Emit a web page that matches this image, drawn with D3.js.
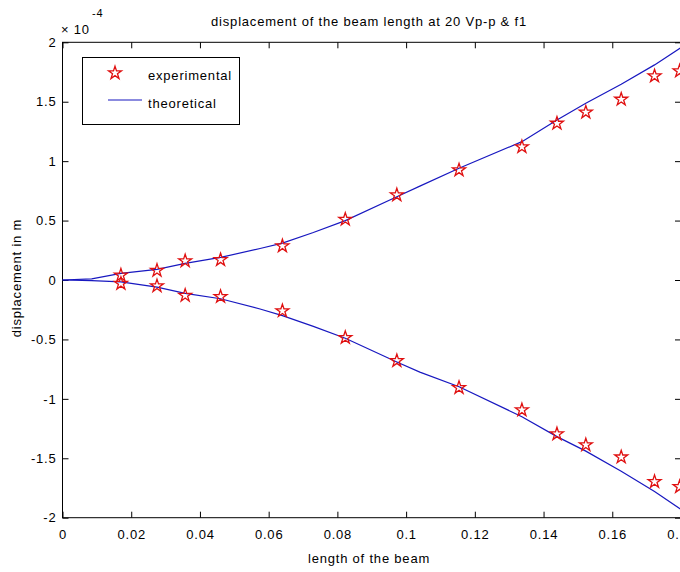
<!DOCTYPE html>
<html>
<head>
<meta charset="utf-8">
<script src="https://cdn.jsdelivr.net/npm/d3@7"></script>
<style>
  body { margin: 0; background: #fff; }
  svg text { font-family: "Liberation Sans", Arial, Helvetica, sans-serif; fill: #000; letter-spacing: 0.8px; }
</style>
</head>
<body>
<script>
// values, displacement in units of 1e-4 m
const expX = [0.017, 0.0275, 0.0357, 0.046, 0.064, 0.0823, 0.0973, 0.1154, 0.1337, 0.1439, 0.1523, 0.1626, 0.1723, 0.1796];
const expUpper = [0.04, 0.08, 0.16, 0.17, 0.286, 0.51, 0.715, 0.925, 1.12, 1.318, 1.411, 1.52, 1.716, 1.758];
const expLower = [-0.03, -0.05, -0.13, -0.14, -0.26, -0.485, -0.68, -0.906, -1.094, -1.296, -1.388, -1.49, -1.697, -1.74];

const theoX = [0, 0.0085, 0.017, 0.0275, 0.0357, 0.046, 0.0575, 0.064, 0.073, 0.0823, 0.0973, 0.104, 0.1154, 0.1337, 0.1439, 0.1523, 0.1626, 0.1723, 0.18];
const theoUpper = [0, 0.01, 0.055, 0.09, 0.14, 0.19, 0.265, 0.31, 0.40, 0.50, 0.70, 0.79, 0.94, 1.164, 1.346, 1.487, 1.647, 1.81, 1.955];
const theoLower = [0, -0.005, -0.015, -0.06, -0.112, -0.158, -0.244, -0.30, -0.39, -0.49, -0.69, -0.775, -0.898, -1.15, -1.318, -1.44, -1.61, -1.78, -1.93];

const xTicks = [0, 0.02, 0.04, 0.06, 0.08, 0.1, 0.12, 0.14, 0.16, 0.18];
const yTicks = [-2, -1.5, -1, -0.5, 0, 0.5, 1, 1.5, 2];

const width = 680, height = 572;
const mLeft = 62.5, mRight = 681, mTop = 42.3, mBottom = 517.7;

const svg = d3.select("body").append("svg")
    .attr("width", width)
    .attr("height", height);

const x = d3.scaleLinear().domain([0, 0.18]).range([mLeft, mRight]);
const y = d3.scaleLinear().domain([-2, 2]).range([mBottom, mTop]);

const tickLen = 6;
const fmt = d => String(d);   // matlab style, plain hyphen

// axes: bottom + left with labels, top + right ticks only
svg.append("g")
    .attr("transform", `translate(0,${mBottom})`)
    .call(d3.axisBottom(x).tickValues(xTicks).tickSizeInner(-tickLen).tickSizeOuter(0).tickPadding(12).tickFormat(fmt))
    .call(g => g.select(".domain").remove())
    .call(g => g.selectAll("text").attr("font-size", 13));

svg.append("g")
    .attr("transform", `translate(${mLeft},0)`)
    .call(d3.axisLeft(y).tickValues(yTicks).tickSizeInner(-tickLen).tickSizeOuter(0).tickPadding(6).tickFormat(fmt))
    .call(g => g.select(".domain").remove())
    .call(g => g.selectAll("text").attr("font-size", 13));

svg.append("g")
    .attr("transform", `translate(0,${mTop})`)
    .call(d3.axisTop(x).tickValues(xTicks).tickSizeInner(-tickLen).tickSizeOuter(0).tickFormat(""))
    .call(g => g.select(".domain").remove());

svg.append("g")
    .attr("transform", `translate(${mRight},0)`)
    .call(d3.axisRight(y).tickValues(yTicks).tickSizeInner(-tickLen).tickSizeOuter(0).tickFormat(""))
    .call(g => g.select(".domain").remove());

svg.selectAll(".tick line").attr("stroke", "#000");

// box
svg.append("rect")
    .attr("x", mLeft).attr("y", mTop)
    .attr("width", mRight - mLeft).attr("height", mBottom - mTop)
    .attr("fill", "none").attr("stroke", "#000");

// theoretical lines
const line = d3.line().x(d => x(d[0])).y(d => y(d[1]));
[theoUpper, theoLower].forEach(vals => {
  svg.append("path")
      .datum(theoX.map((t, i) => [t, vals[i]]))
      .attr("fill", "none")
      .attr("stroke", "#1818c0")
      .attr("stroke-width", 1.2)
      .attr("d", line);
});

// experimental stars
const star = d3.symbol().type(d3.symbolStar).size(52);
const pts = expX.map((t, i) => [t, expUpper[i]]).concat(expX.map((t, i) => [t, expLower[i]]));
svg.append("g").selectAll("path")
  .data(pts)
  .join("path")
    .attr("transform", d => `translate(${x(d[0])},${y(d[1])})`)
    .attr("d", star)
    .attr("fill", "none")
    .attr("stroke", "#e01010")
    .attr("stroke-width", 1.3);

// title and labels
svg.append("text")
    .attr("x", 369).attr("y", 26)
    .attr("text-anchor", "middle").attr("font-size", 13)
    .text("displacement of the beam length at 20 Vp-p & f1");

svg.append("text")
    .attr("x", 369).attr("y", 563)
    .attr("text-anchor", "middle").attr("font-size", 13)
    .text("length of the beam");

svg.append("text")
    .attr("transform", "translate(21,278) rotate(-90)")
    .attr("text-anchor", "middle").attr("font-size", 13)
    .text("displacement in m");

// exponent
svg.append("text")
    .attr("x", 61).attr("y", 34).attr("font-size", 13)
    .text("\u00d7 10");
svg.append("text")
    .attr("x", 92).attr("y", 17).attr("font-size", 11)
    .text("-4");

// legend
const lg = svg.append("g");
lg.append("rect")
    .attr("x", 82.5).attr("y", 57.5).attr("width", 157).attr("height", 67)
    .attr("fill", "#fff").attr("stroke", "#000");
lg.append("path")
    .attr("transform", "translate(115,73)")
    .attr("d", star)
    .attr("fill", "none").attr("stroke", "#e01010").attr("stroke-width", 1.3);
lg.append("text").attr("x", 148).attr("y", 80).attr("font-size", 13).text("experimental");
lg.append("line")
    .attr("x1", 108).attr("x2", 142).attr("y1", 100).attr("y2", 100)
    .attr("stroke", "#1818c0").attr("stroke-width", 1.2);
lg.append("text").attr("x", 148).attr("y", 108).attr("font-size", 13).text("theoretical");
</script>
</body>
</html>
